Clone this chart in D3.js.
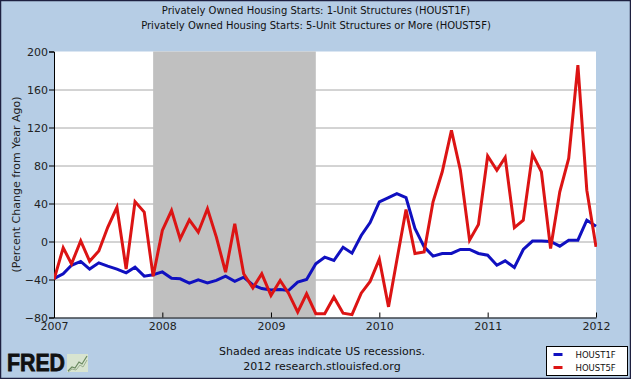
<!DOCTYPE html>
<html>
<head>
<meta charset="utf-8">
<script src="https://cdn.jsdelivr.net/npm/d3@7"></script>
<style>
  body { margin: 0; padding: 0; background: #b6cde5; }
  svg { display: block; font-family: "DejaVu Sans", Verdana, sans-serif; }
</style>
</head>
<body>
<div id="chart"></div>
<script>
// chart text
const titleLines = [
    "Privately Owned Housing Starts: 1-Unit Structures (HOUST1F)",
    "Privately Owned Housing Starts: 5-Unit Structures or More (HOUST5F)"
];
const yLabel = "(Percent Change from Year Ago)";
const footerLines = ["Shaded areas indicate US recessions.", "2012 research.stlouisfed.org"];
const seriesNames = ["HOUST1F", "HOUST5F"];

// ticks
const yTicks = [-80, -40, 0, 40, 80, 120, 160, 200];
const xTickYears = [2007, 2008, 2009, 2010, 2011, 2012];

// recession (NBER)
const recessionStart = "2007-12-01";
const recessionEnd = "2009-06-01";

// monthly values, Jan 2007 .. Jan 2012 (percent change from year ago)
const firstMonth = "2007-01-01";
const houst1f = [
    -39, -34, -25, -21, -29, -22.5, -26, -29, -33, -27, -36.5, -35,
    -32, -38.6, -39.3, -43.9, -40.4, -43.5, -41, -36.5, -42, -37.6, -45.6, -49.5,
    -51, -50.5, -51.6, -42.8, -40, -23.5, -16.5, -20, -6, -12.3, 6.3, 20,
    41.8, 46.3, 50.5, 46.3, 13.7, -5.6, -15.4, -12.6, -12.6, -8.4, -8.4, -12.6,
    -14.4, -25, -20.4, -27.4, -8.4, 0.4, 0.4, 0, -4.9, 1.4, 1.4, 22.5,
    16
];
const houst5f = [
    -40, -6.7, -23.5, 0.7, -20.7, -10, 15, 36, -29, 42, 31, -36.5,
    11.6, 32.6, 2.8, 22.8, 9.8, 34.4, 4.6, -32.3, 18.6, -34, -48.8, -34,
    -56.9, -41, -54.4, -74.4, -55, -76, -76, -58.6, -75.5, -77, -54.4, -42,
    -18.6, -68.8, -19.7, 33.7, -12.6, -10.9, 41.8, 73.4, 117, 75, 1.4, 18,
    90, 75, 88.5, 14.7, 22.5, 92, 73.4, -7.4, 52.3, 87.4, 185.7, 54,
    -5.6
];

const width = 631, height = 379;
const margin = {top: 51.5, right: 35, bottom: 61.5, left: 54};
const plotW = width - margin.left - margin.right,
    plotH = height - margin.top - margin.bottom;

const parseDate = d3.timeParse("%Y-%m-%d");
const months = d3.timeMonth.range(parseDate(firstMonth), d3.timeMonth.offset(parseDate(firstMonth), houst1f.length));

let svg = d3.select("#chart").append("svg")
    .attr("width", width)
    .attr("height", height);

// background + outer border
svg.append("rect")
    .attr("x", 0.5).attr("y", 0.5)
    .attr("width", width - 1).attr("height", height - 1)
    .attr("fill", "#b6cde5")
    .attr("stroke", "#1e2040")
    .attr("stroke-width", 1.5);

// titles
svg.selectAll(".title")
    .data(titleLines)
    .enter().append("text")
    .attr("class", "title")
    .attr("x", 316)
    .attr("y", (d, i) => 14 + i * 15)
    .attr("text-anchor", "middle")
    .attr("font-size", 10)
    .attr("fill", "#111")
    .text(d => d);

let g = svg.append("g")
    .attr("transform", "translate(" + margin.left + "," + margin.top + ")");

let x = d3.scaleTime()
    .domain([parseDate(firstMonth), months[months.length - 1]])
    .range([0, plotW]);

let y = d3.scaleLinear()
    .domain([-80, 200])
    .range([plotH, 0]);

// plot area
g.append("rect")
    .attr("width", plotW)
    .attr("height", plotH)
    .attr("fill", "white");

// gridlines
g.selectAll(".grid")
    .data(yTicks.filter(d => d > -80 && d < 200))
    .enter().append("line")
    .attr("class", "grid")
    .attr("x1", 0).attr("x2", plotW)
    .attr("y1", d => Math.round(y(d)) + 0.5)
    .attr("y2", d => Math.round(y(d)) + 0.5)
    .attr("stroke", "#a8a8a8")
    .attr("stroke-width", 1);

// recession shading drawn over the grid
g.append("rect")
    .attr("x", x(parseDate(recessionStart)))
    .attr("y", 0)
    .attr("width", x(parseDate(recessionEnd)) - x(parseDate(recessionStart)))
    .attr("height", plotH)
    .attr("fill", "#c0c0c0");

// axes
let yAxis = g.append("g")
    .call(d3.axisLeft(y).tickValues(yTicks).tickSize(5).tickPadding(1));

let xAxis = g.append("g")
    .attr("transform", "translate(0," + plotH + ")")
    .call(d3.axisBottom(x)
        .tickValues(xTickYears.map(yr => new Date(yr, 0, 1)))
        .tickFormat(d3.timeFormat("%Y"))
        .tickSizeInner(-5)
        .tickSizeOuter(0)
        .tickPadding(5));

[yAxis, xAxis].forEach(ax => {
    ax.select(".domain").attr("stroke", "#000");
    ax.selectAll(".tick line").attr("stroke", "#000");
    ax.selectAll(".tick text")
        .attr("font-family", "DejaVu Sans, Verdana, sans-serif")
        .attr("font-size", 11)
        .attr("fill", "#222");
});

// y axis label
svg.append("text")
    .attr("transform", "translate(20," + (margin.top + plotH / 2) + ") rotate(-90)")
    .attr("text-anchor", "middle")
    .attr("font-size", 11)
    .attr("fill", "#222")
    .text(yLabel);

// lines
const series = [
    {name: seriesNames[0], values: houst1f, color: "#1010c0"},
    {name: seriesNames[1], values: houst5f, color: "#dc1414"}
];

const line = d3.line()
    .x((d, i) => x(months[i]))
    .y(d => y(d));

// clip so the thick lines do not spill past the frame
svg.append("defs").append("clipPath").attr("id", "plotclip")
    .append("rect").attr("x", 0).attr("y", -3).attr("width", plotW + 1).attr("height", plotH + 3);

g.append("g").attr("clip-path", "url(#plotclip)")
    .selectAll(".series")
    .data(series)
    .enter().append("path")
    .attr("class", "series")
    .attr("fill", "none")
    .attr("stroke", d => d.color)
    .attr("stroke-width", 3)
    .attr("stroke-linejoin", "miter")
    .attr("d", d => line(d.values));

// footer
svg.selectAll(".footer")
    .data(footerLines)
    .enter().append("text")
    .attr("class", "footer")
    .attr("x", 322)
    .attr("y", (d, i) => 355 + i * 15)
    .attr("text-anchor", "middle")
    .attr("font-size", 11)
    .attr("fill", "#111")
    .text(d => d);

// legend
let legend = svg.append("g").attr("transform", "translate(546.5,346.5)");
legend.append("rect")
    .attr("width", 81).attr("height", 29)
    .attr("fill", "white")
    .attr("stroke", "#000");
series.forEach((s, i) => {
    legend.append("line")
        .attr("x1", 7).attr("x2", 16)
        .attr("y1", 8 + i * 13).attr("y2", 8 + i * 13)
        .attr("stroke", s.color)
        .attr("stroke-width", 3);
    legend.append("text")
        .attr("x", 29)
        .attr("y", 11.5 + i * 13)
        .attr("font-size", 8.5)
        .attr("fill", "#111")
        .text(s.name);
});

// FRED logo
let logo = svg.append("g").attr("transform", "translate(7,352)");
logo.append("text")
    .attr("x", 0).attr("y", 19)
    .attr("font-family", "Liberation Sans, Arial, sans-serif")
    .attr("font-weight", "bold")
    .attr("font-size", 24)
    .attr("fill", "#111")
    .attr("stroke", "#111")
    .attr("stroke-width", 0.8)
    .attr("textLength", 58)
    .attr("lengthAdjust", "spacingAndGlyphs")
    .text("FRED");
logo.append("rect")
    .attr("x", 60).attr("y", 2).attr("width", 21).attr("height", 18)
    .attr("fill", "#d8e4d0");
logo.append("polyline")
    .attr("points", "61,19 65,15 68,16 72,10 75,12 80,4")
    .attr("fill", "none")
    .attr("stroke", "#6a8a60")
    .attr("stroke-width", 1.2);
logo.append("polyline")
    .attr("points", "61,20 65,17 69,18 73,13 76,15 80,8")
    .attr("fill", "none")
    .attr("stroke", "#9ab08e")
    .attr("stroke-width", 1);
</script>
</body>
</html>
